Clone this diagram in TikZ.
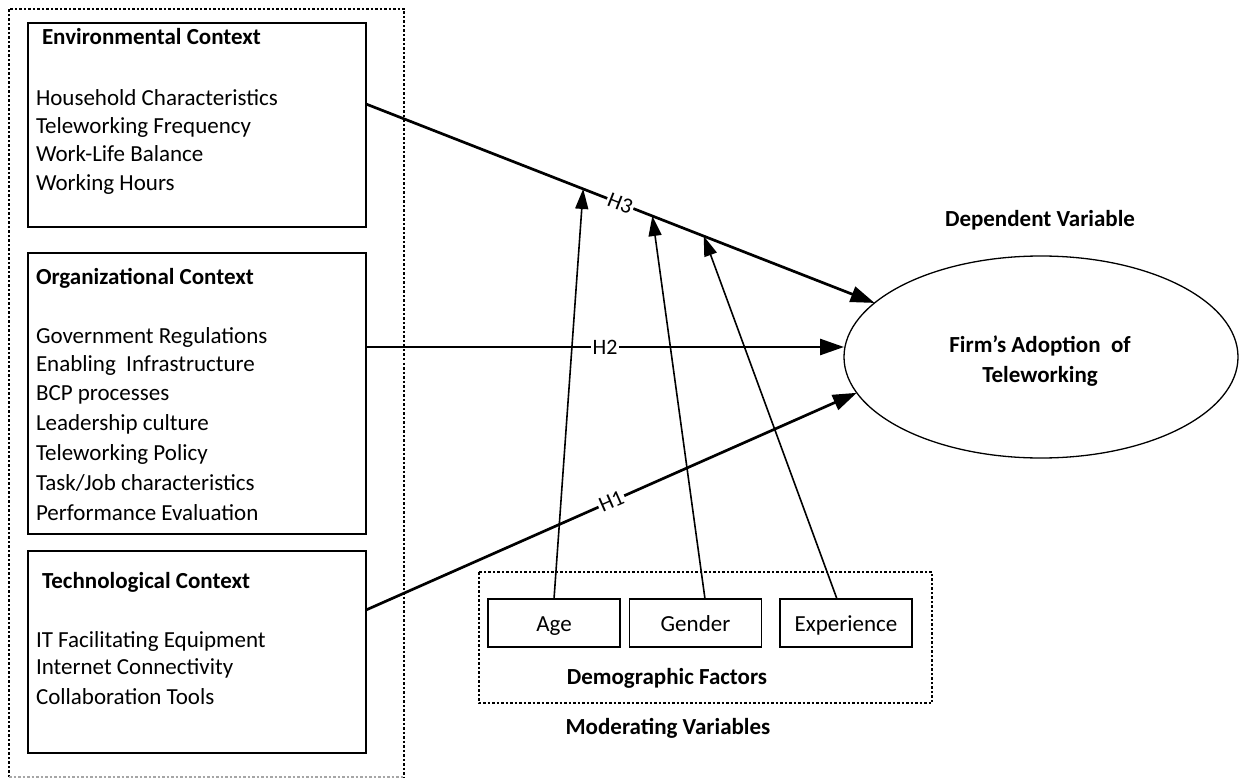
\documentclass[tikz,border=0pt]{standalone}
\usepackage{fontspec}
\setmainfont{Carlito}
\usetikzlibrary{arrows.meta,shapes.geometric}
\begin{document}
\begin{tikzpicture}[x=1pt,y=-1pt,
  every node/.style={inner sep=0pt, outer sep=0pt},
  ctxbox/.style={draw, line width=1.3pt, anchor=north west},
  item/.style={anchor=base west, font=\fontsize{23}{28}\selectfont},
  ttl/.style={anchor=base west, font=\fontsize{23}{28}\selectfont\bfseries},
  lbl/.style={anchor=base, font=\fontsize{23}{28}\selectfont\bfseries},
  dotbox/.style={line width=1.3pt, dash pattern=on 2.5pt off 2pt},
  hyp/.style={line width=2.7pt, -{Triangle[length=24pt,width=16pt]}},
  modarrow/.style={line width=1.6pt, -{Triangle[length=20pt,width=13pt]}},
  hlabel/.style={fill=white, inner sep=1.5pt, sloped, font=\fontsize{22}{26}\selectfont},
  demo/.style={draw, line width=1.3pt, minimum width=132pt, minimum height=48pt,
    text height=18pt, text depth=0.6pt, font=\fontsize{23}{28}\selectfont},
]
\useasboundingbox (0,0) rectangle (1239,778);

% outer dotted frame
\draw[dotbox] (9,777) -- (9,9) -- (404,9) -- (404,777);
\draw[dotbox, black!35] (9,777) -- (404,777);

% context boxes
\node[ctxbox, minimum width=338pt, minimum height=204pt] (env) at (28,23) {};
\node[ctxbox, minimum width=338pt, minimum height=281pt] (org) at (28,253) {};
\node[ctxbox, minimum width=338pt, minimum height=202pt] (tech) at (28,551) {};

\node[ttl] (envt) at (42,45) {Environmental Context};
\node[item] (env1) at (36,105.5) {Household Characteristics};
\node[item] (env2) at (36,133.5) {Teleworking Frequency};
\node[item] (env3) at (36,161.5) {Work-Life Balance};
\node[item] (env4) at (36,190.5) {Working Hours};

\node[ttl] (orgt) at (36,284) {Organizational Context};
\node[item] (org1) at (36,343) {Government Regulations};
\node[item] (org2) at (36,371) {Enabling\ \ Infrastructure};
\node[item] (org3) at (36,400) {BCP processes};
\node[item] (org4) at (36,430) {Leadership culture};
\node[item] (org5) at (36,460) {Teleworking Policy};
\node[item] (org6) at (36,490) {Task/Job characteristics};
\node[item] (org7) at (36,520) {Performance Evaluation};

\node[ttl] (techt) at (42,588) {Technological Context};
\node[item] (tech1) at (36,647.5) {IT Facilitating Equipment};
\node[item] (tech2) at (36,674.5) {Internet Connectivity};
\node[item] (tech3) at (36,704) {Collaboration Tools};

% dependent variable
\node[draw, ellipse, line width=1.3pt, minimum width=394pt, minimum height=202pt] (ell) at (1041,357) {};
\node[lbl] (depv) at (1040,226) {Dependent Variable};
\node[lbl] (ell1) at (1040,352) {Firm’s Adoption\ \ of};
\node[lbl] (ell2) at (1040,382) {Teleworking};

% demographic factors
\draw[dotbox] (479,572) rectangle (932,703);
\node[demo] (age) at (554,623) {Age};
\node[demo] (gender) at (695.5,623) {Gender};
\node[demo] (exper) at (846,623) {Experience};
\node[lbl] (demf) at (667,684) {Demographic Factors};
\node[lbl] (modv) at (668,734) {Moderating Variables};

% hypotheses
\coordinate (s3) at (env.east |- 0,104);
\coordinate (s2) at (org.east |- 0,347);
\coordinate (s1) at (tech.east |- 0,610);
\coordinate (e2) at (ell.west |- s2);
\draw[hyp] (s3) -- node[hlabel, pos=0.5] (h3) {H3} (ell.162);
\draw[hyp] (s2) -- node[hlabel, pos=0.5] (h2) {H2} (e2);
\draw[hyp] (s1) -- node[hlabel, pos=0.5] (h1) {H1} (ell.191);

% moderating arrows
\path (s3) -- (ell.162)
  coordinate[pos=0.427] (m1)
  coordinate[pos=0.563] (m2)
  coordinate[pos=0.664] (m3);
\draw[modarrow] (age.north) -- (m1);
\draw[modarrow] ([xshift=9.5pt]gender.north) -- (m2);
\draw[modarrow] ([xshift=-9pt]exper.north) -- (m3);
\end{tikzpicture}
\end{document}
